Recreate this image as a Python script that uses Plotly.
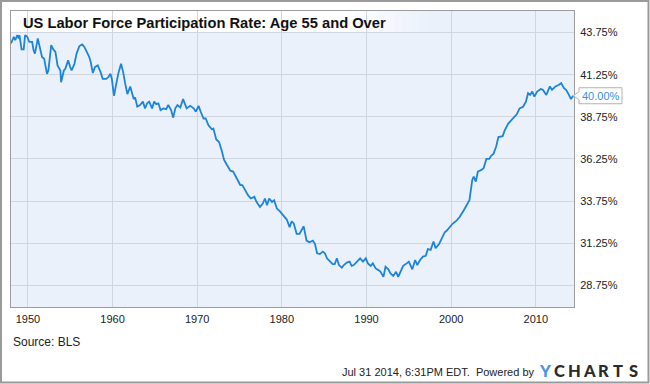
import plotly.graph_objects as go

# ---------------- data ----------------
dates = [
    "1948-01", "1948-05", "1948-07", "1948-10", "1948-12", "1949-01", "1949-04", "1949-07", "1949-09", "1949-12",
    "1950-03", "1950-07", "1950-09", "1950-11", "1951-03", "1951-06", "1951-09", "1951-12", "1952-04", "1952-06",
    "1952-10", "1953-01", "1953-04", "1953-07", "1953-11", "1953-12", "1954-04", "1954-06", "1954-10", "1955-01",
    "1955-03", "1955-07", "1955-10", "1956-02", "1956-06", "1956-09", "1957-01", "1957-04", "1957-06", "1957-09",
    "1957-12", "1958-04", "1958-08", "1958-11", "1959-04", "1959-07", "1959-10", "1959-12", "1960-03", "1960-07",
    "1960-09", "1961-01", "1961-04", "1961-07", "1961-10", "1962-02", "1962-04", "1962-07", "1962-09", "1962-12",
    "1963-04", "1963-08", "1963-11", "1964-02", "1964-05", "1964-09", "1964-12", "1965-03", "1965-06", "1965-09",
    "1966-01", "1966-05", "1966-08", "1966-12", "1967-03", "1967-06", "1967-09", "1968-01", "1968-05", "1968-10",
    "1969-03", "1969-08", "1969-11", "1970-03", "1970-06", "1970-10", "1971-01", "1971-05", "1971-10", "1971-12",
    "1972-04", "1972-08", "1972-12", "1973-03", "1973-07", "1973-12", "1974-04", "1974-09", "1975-02", "1975-05",
    "1975-09", "1976-01", "1976-05", "1976-10", "1977-01", "1977-06", "1977-10", "1978-01", "1978-04", "1978-07",
    "1978-11", "1979-02", "1979-06", "1979-10", "1980-03", "1980-08", "1980-12", "1981-03", "1981-06", "1981-10",
    "1982-02", "1982-05", "1982-08", "1982-12", "1983-04", "1983-09", "1983-12", "1984-03", "1984-07", "1984-11",
    "1985-02", "1985-05", "1985-09", "1986-01", "1986-04", "1986-07", "1986-10", "1987-02", "1987-05", "1987-09",
    "1988-01", "1988-04", "1988-07", "1988-11", "1989-04", "1989-08", "1989-12", "1990-03", "1990-07", "1990-10",
    "1991-02", "1991-06", "1991-09", "1992-01", "1992-04", "1992-08", "1992-11", "1993-03", "1993-07", "1993-10",
    "1994-01", "1994-05", "1994-10", "1995-01", "1995-06", "1995-10", "1996-01", "1996-05", "1996-09", "1997-01",
    "1997-04", "1997-08", "1997-12", "1998-03", "1998-08", "1999-01", "1999-04", "1999-07", "1999-11", "2000-03",
    "2000-09", "2001-01", "2001-07", "2002-01", "2002-03", "2002-07", "2002-09", "2002-12", "2003-03", "2003-08",
    "2003-11", "2004-03", "2004-07", "2004-10", "2005-01", "2005-05", "2005-08", "2006-02", "2006-05", "2006-10",
    "2007-02", "2007-07", "2007-10", "2008-02", "2008-07", "2008-11", "2009-02", "2009-05", "2009-08", "2009-11",
    "2010-03", "2010-08", "2010-11", "2011-04", "2011-09", "2011-12", "2012-05", "2012-10", "2013-01", "2013-05",
    "2013-08", "2013-12", "2014-03", "2014-06",
]
values = [
    43.10, 43.50, 43.30, 43.60, 43.40, 43.60, 42.75, 42.75, 43.60, 43.50,
    43.20, 43.20, 42.70, 42.50, 43.40, 42.90, 42.30, 42.20, 41.30, 41.50,
    43.00, 42.75, 42.60, 41.80, 41.50, 40.80, 41.50, 41.60, 42.10, 41.70,
    41.50, 41.90, 42.50, 42.95, 43.05, 42.90, 42.60, 42.30, 42.00, 41.35,
    41.70, 41.80, 41.40, 41.00, 41.00, 41.10, 41.30, 41.00, 40.00, 40.90,
    41.30, 41.90, 41.40, 40.70, 40.10, 40.55, 40.20, 39.80, 39.90, 39.35,
    39.45, 39.65, 39.25, 39.55, 39.65, 39.25, 39.65, 39.50, 39.55, 39.15,
    39.25, 39.20, 39.45, 39.15, 38.70, 39.25, 39.45, 39.30, 39.80, 39.25,
    39.40, 39.25, 39.05, 39.40, 39.05, 38.65, 38.65, 38.25, 38.00, 38.05,
    37.40, 37.25, 36.70, 36.20, 35.90, 35.55, 35.50, 35.10, 34.70, 34.70,
    34.40, 34.10, 33.90, 34.00, 33.70, 33.40, 33.60, 33.90, 33.50, 33.90,
    33.70, 33.80, 33.30, 33.15, 32.90, 32.65, 32.20, 32.55, 32.40, 31.80,
    31.80, 32.00, 32.25, 31.40, 31.30, 31.40, 31.20, 30.65, 30.60, 30.75,
    30.65, 30.35, 30.15, 30.00, 30.00, 30.35, 29.95, 29.80, 29.95, 30.10,
    30.15, 29.90, 29.95, 30.15, 30.35, 30.15, 30.35, 30.05, 29.90, 30.05,
    29.75, 29.65, 29.55, 29.25, 29.85, 29.70, 29.45, 29.30, 29.55, 29.25,
    29.55, 29.90, 30.05, 30.15, 29.70, 30.25, 29.95, 30.25, 30.45, 30.50,
    30.90, 30.85, 31.35, 30.95, 31.20, 31.70, 31.90, 32.00, 32.20, 32.40,
    32.60, 32.80, 33.20, 33.70, 33.80, 35.00, 35.20, 34.90, 35.50, 35.60,
    35.70, 36.25, 36.25, 36.45, 36.55, 37.00, 37.55, 37.60, 37.95, 38.35,
    38.55, 38.75, 38.90, 39.25, 39.35, 39.65, 40.15, 40.05, 40.25, 39.95,
    40.25, 40.40, 40.35, 40.05, 40.55, 40.35, 40.55, 40.65, 40.75, 40.45,
    40.35, 40.05, 39.80, 40.00,
]
x_tick_years = [1950, 1960, 1970, 1980, 1990, 2000, 2010]
title_text = "US Labor Force Participation Rate: Age 55 and Over"
source_text = "Source: BLS"
footer_text = "Jul 31 2014, 6:31PM EDT.  Powered by"
logo_text = "YCHARTS"

# ---------------- geometry ----------------
W, H = 650, 384
L, R, T, B = 11, 76, 11, 77
PW, PH = W - L - R, H - T - B


def px_x(px):
    return (px - L) / PW


def px_y(py):
    return (H - B - py) / PH


FONT = "Liberation Sans, Arial, sans-serif"
LINE_BLUE = "#1c84d9"
y_range = [27.46, 45.03]
units_per_px = (y_range[1] - y_range[0]) / PH

fig = go.Figure()
fig.add_trace(go.Scatter(
    x=dates, y=values, mode="lines",
    line=dict(color=LINE_BLUE, width=1.8),
    hoverinfo="skip", showlegend=False,
))

shapes = []
# title backdrop (white fading to the plot colour), covers gridlines
shapes.append(dict(type="rect", xref="paper", yref="paper", layer="between",
                   x0=px_x(L), x1=px_x(340), y0=px_y(32.3), y1=px_y(T),
                   fillcolor="white", line=dict(width=0)))
n_fade = 12
for i in range(n_fade):
    a0 = 340 + (435 - 340) * i / n_fade
    a1 = 340 + (435 - 340) * (i + 1) / n_fade
    shapes.append(dict(type="rect", xref="paper", yref="paper", layer="between",
                       x0=px_x(a0), x1=px_x(a1), y0=px_y(32.3), y1=px_y(T),
                       fillcolor="white", opacity=1 - (i + 0.5) / n_fade,
                       line=dict(width=0)))
# outer frame of the whole picture
shapes.append(dict(type="rect", xref="paper", yref="paper", layer="above",
                   x0=px_x(1), x1=px_x(648.5), y0=px_y(382.5), y1=px_y(1),
                   fillcolor="rgba(0,0,0,0)", line=dict(color="#9a9a9a", width=2)))

# callout for the last value
last = values[-1]
hh = 8 * units_per_px
nh = 4 * units_per_px
bx0, bx1, tip = px_x(579), px_x(622), px_x(573.5)
path = (f"M {tip},{last} L {bx0},{last + nh} L {bx0},{last + hh} L {bx1},{last + hh} "
        f"L {bx1},{last - hh} L {bx0},{last - hh} L {bx0},{last - nh} Z")
shapes.append(dict(type="path", xref="paper", yref="y", path=path, layer="above",
                   fillcolor="white", line=dict(color="#b4b4b4", width=1)))

annotations = [
    dict(text=f"<b>{title_text}</b>", x=px_x(20.5), y=px_y(23), xref="paper", yref="paper",
         xanchor="left", yanchor="middle", showarrow=False,
         font=dict(family=FONT, size=14.7, color="#111111")),
    dict(text=f"{last:.2f}%", x=(bx0 + bx1) / 2, y=last, xref="paper", yref="y",
         xanchor="center", yanchor="middle", showarrow=False,
         font=dict(family=FONT, size=11, color="#3b90dc")),
    dict(text=source_text, x=px_x(11), y=px_y(342), xref="paper", yref="paper",
         xanchor="left", yanchor="middle", showarrow=False,
         font=dict(family=FONT, size=12, color="#222222")),
    dict(text=footer_text, x=px_x(536), y=px_y(372), xref="paper", yref="paper",
         xanchor="right", yanchor="middle", showarrow=False,
         font=dict(family=FONT, size=11, color="#222222")),
]
for i, ch in enumerate(logo_text):
    annotations.append(dict(
        text=ch, x=px_x(545 + 14.67 * i), y=px_y(370.5), xref="paper", yref="paper",
        xanchor="center", yanchor="middle", showarrow=False,
        font=dict(family="Lato, Liberation Sans, sans-serif", size=16.5, weight=900,
                  color="#4a94e4" if i == 0 else "#2b2b2b")))

fig.update_layout(
    width=W, height=H,
    margin=dict(l=L, r=R, t=T, b=B, pad=0),
    paper_bgcolor="white", plot_bgcolor="#eaf1fb",
    showlegend=False,
    shapes=shapes, annotations=annotations,
    font=dict(family=FONT, size=11, color="#222222"),
)
fig.update_xaxes(
    type="date", range=["1948-01-01", "2014-07-08"],
    tickvals=[f"{y}-01-01" for y in x_tick_years],
    ticktext=[str(y) for y in x_tick_years],
    showgrid=True, gridcolor="#cfd6e0", gridwidth=1,
    showline=True, linecolor="#9c9c9c", linewidth=1, mirror=True,
    ticks="", ticklabelstandoff=2, zeroline=False,
    tickfont=dict(family=FONT, size=11, color="#222222"),
)
fig.update_yaxes(
    side="right", range=y_range, tick0=28.75, dtick=2.5,
    tickformat=".2f", ticksuffix="%",
    showgrid=True, gridcolor="#cfd6e0", gridwidth=1,
    showline=True, linecolor="#9c9c9c", linewidth=1, mirror=True,
    ticks="", ticklabelstandoff=3, zeroline=False,
    tickfont=dict(family=FONT, size=11, color="#222222"),
)

fig.write_html(
    "out.html",
    config={"displayModeBar": False},
    post_script="document.body.style.margin='0';document.body.style.overflow='hidden';",
)
